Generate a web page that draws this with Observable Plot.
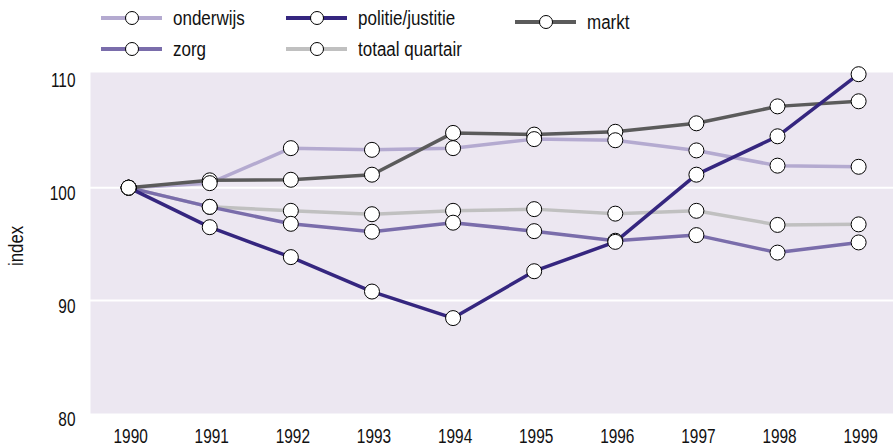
<!DOCTYPE html>
<html>
<head>
<meta charset="utf-8">
<script src="https://cdn.jsdelivr.net/npm/d3@7"></script>
<script src="https://cdn.jsdelivr.net/npm/@observablehq/plot@0.6"></script>
<style>
  html, body { margin: 0; padding: 0; background: #fff; }
  body { width: 893px; height: 448px; overflow: hidden; font-family: "Liberation Sans", Arial, sans-serif; }
  #legend { position: relative; height: 60px; width: 893px; }
  .item { position: absolute; display: flex; align-items: center; font-size: 20px; color: #111; white-space: nowrap; }
  .item svg { margin-right: 11px; overflow: visible; flex: none; }
  .item span { display: inline-block; transform: scaleX(0.85); transform-origin: 0 50%; }
</style>
</head>
<body>
<div id="legend"></div>
<div id="chart"></div>
<script>
const years = [1990, 1991, 1992, 1993, 1994, 1995, 1996, 1997, 1998, 1999];
const onderwijs = [100, 100.4, 103.5, 103.35, 103.5, 104.3, 104.2, 103.3, 101.95, 101.85];
const politieJustitie = [100, 96.5, 93.85, 90.8, 88.45, 92.6, 95.2, 101.15, 104.55, 110.05];
const markt = [100, 100.65, 100.7, 101.15, 104.85, 104.7, 104.95, 105.7, 107.2, 107.65];
const zorg = [100, 98.3, 96.8, 96.1, 96.9, 96.15, 95.3, 95.8, 94.25, 95.15];
const totaalQuartair = [100, 98.3, 97.95, 97.65, 97.95, 98.1, 97.7, 97.95, 96.7, 96.75];
const yTicks = [80, 90, 100, 110];
const gridValues = [90, 100];

const series = [
  {name: "onderwijs", values: onderwijs, color: "#b4aad0"},
  {name: "politie/justitie", values: politieJustitie, color: "#35267f"},
  {name: "markt", values: markt, color: "#5b5b5b"},
  {name: "zorg", values: zorg, color: "#7a6dab"},
  {name: "totaal quartair", values: totaalQuartair, color: "#c0c0c0"}
];
const colorOf = Object.fromEntries(series.map(s => [s.name, s.color]));

const rows = [];
for (const s of series) s.values.forEach((v, i) => rows.push({series: s.name, year: years[i], value: v}));

const lineOrder = ["onderwijs", "totaal quartair", "zorg", "markt", "politie/justitie"];
const dotOrder = ["markt", "totaal quartair", "zorg", "onderwijs", "politie/justitie"];

// legend
const legendPos = {
  "onderwijs": [101, 18], "zorg": [101, 49],
  "politie/justitie": [286, 18], "totaal quartair": [286, 49],
  "markt": [515, 22]
};
const legend = document.getElementById("legend");
for (const s of series) {
  const [lx, ly] = legendPos[s.name];
  const div = document.createElement("div");
  div.className = "item";
  div.style.left = lx + "px";
  div.style.top = (ly - 12) + "px";
  div.style.height = "24px";
  div.innerHTML = `<svg width="61" height="16"><line x1="0" y1="8" x2="61" y2="8" stroke="${s.color}" stroke-width="4"/><circle cx="31" cy="8" r="6.5" fill="#fff" stroke="#000" stroke-width="1"/></svg><span>${s.name}</span>`;
  legend.appendChild(div);
}

const chart = Plot.plot({
  width: 893,
  height: 388,
  marginTop: 12,
  marginBottom: 35,
  marginLeft: 90,
  marginRight: 0,
  style: {fontFamily: '"Liberation Sans", Arial, sans-serif', fontSize: "19.5px", color: "#111", background: "#fff"},
  x: {domain: [1989.53, 1999.43], label: null},
  y: {domain: [80, 110.2], label: null},
  marks: [
    Plot.frame({fill: "#ece7f1", stroke: null}),
    Plot.ruleY(gridValues, {stroke: "#fff", strokeWidth: 2}),
    Plot.axisX({ticks: years, tickFormat: d => String(d), tickSize: 0, tickPadding: 16, dx: 2, label: null}),
    Plot.axisY({ticks: yTicks, tickSize: 0, tickPadding: 15, dy: 6, label: null}),
    Plot.text(["index"], {frameAnchor: "left", dx: -74, dy: 23, rotate: -90, fontSize: 20}),
    ...lineOrder.map(n => Plot.line(rows.filter(r => r.series === n), {x: "year", y: "value", stroke: colorOf[n], strokeWidth: 3.5})),
    ...dotOrder.map(n => Plot.dot(rows.filter(r => r.series === n), {x: "year", y: "value", r: 7.5, fill: "#fff", stroke: "#000", strokeWidth: 1}))
  ]
});
document.getElementById("chart").appendChild(chart);

// condense text horizontally to mimic a narrow typeface
chart.querySelectorAll("text").forEach(t => {
  if (t.querySelector("tspan")) return;
  const len = t.getComputedTextLength();
  const f = t.textContent === "index" ? 0.84 : 0.79;
  if (len > 0) {
    t.setAttribute("textLength", (len * f).toFixed(2));
    t.setAttribute("lengthAdjust", "spacingAndGlyphs");
  }
});
</script>
</body>
</html>
